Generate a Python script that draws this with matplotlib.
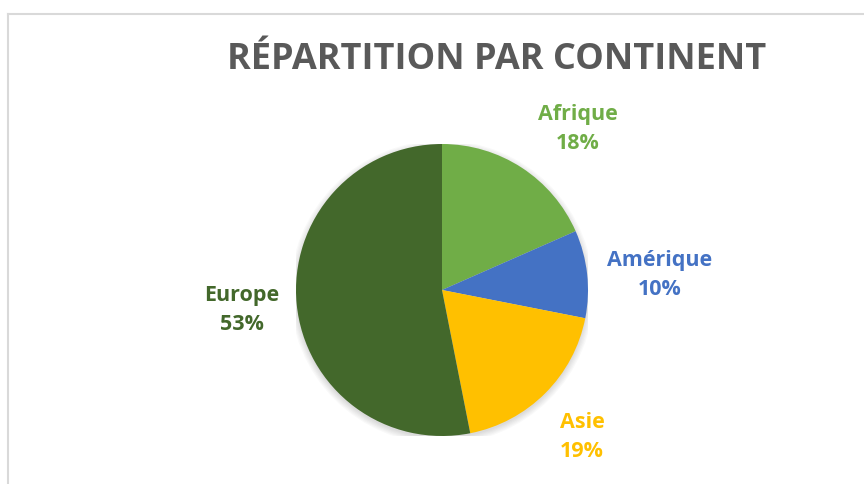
import numpy as np
import matplotlib.pyplot as plt
from matplotlib.patches import Circle

# data
continents = ["Afrique", "Amérique", "Asie", "Europe"]
shares = [18.4, 9.7, 18.8, 53.1]
colors = ["#70AD47", "#4472C4", "#FFC000", "#43682B"]

# label placement (data units, pie radius = 1)
label_pos = [(0.93, 1.10), (1.49, 0.10), (0.96, -1.01), (-1.37, -0.14)]

W, H = 864, 484
cx, cy, r = 442, 290, 146

fig = plt.figure(figsize=(W / 100, H / 100), dpi=100)
fig.patch.set_facecolor("white")

# light frame (top and left edges visible)
fig.add_artist(plt.Line2D([8 / W, 1], [1 - 14 / H, 1 - 14 / H], color="#D9D9D9", lw=1.5))
fig.add_artist(plt.Line2D([8 / W, 8 / W], [0, 1 - 14 / H], color="#D9D9D9", lw=1.5))

ax = fig.add_axes([(cx - r) / W, (H - cy - r) / H, 2 * r / W, 2 * r / H])

# soft shadow under the pie
for k in range(6):
    ax.add_patch(Circle((0, -0.015), 1.0 + 0.008 * k, color="black", alpha=0.025,
                        lw=0, zorder=0))

ax.pie(shares, colors=colors, startangle=90, counterclock=False, radius=1,
       wedgeprops=dict(linewidth=0, zorder=2))
ax.set_xlim(-1, 1)
ax.set_ylim(-1, 1)
ax.set_aspect("equal")
ax.axis("off")

for name, val, col, (lx, ly) in zip(continents, shares, colors, label_pos):
    ax.text(lx, ly, "%s\n%.0f%%" % (name, val), color=col, ha="center", va="center",
            fontsize=15.5, fontweight="bold", family="Open Sans", linespacing=1.5,
            clip_on=False)

fig.text(497 / W, 1 - 60 / H, "RÉPARTITION PAR CONTINENT", ha="center", va="center",
         fontsize=26, fontweight="bold", family="Open Sans", color="#595959")

fig.savefig("out.png", dpi=100)
